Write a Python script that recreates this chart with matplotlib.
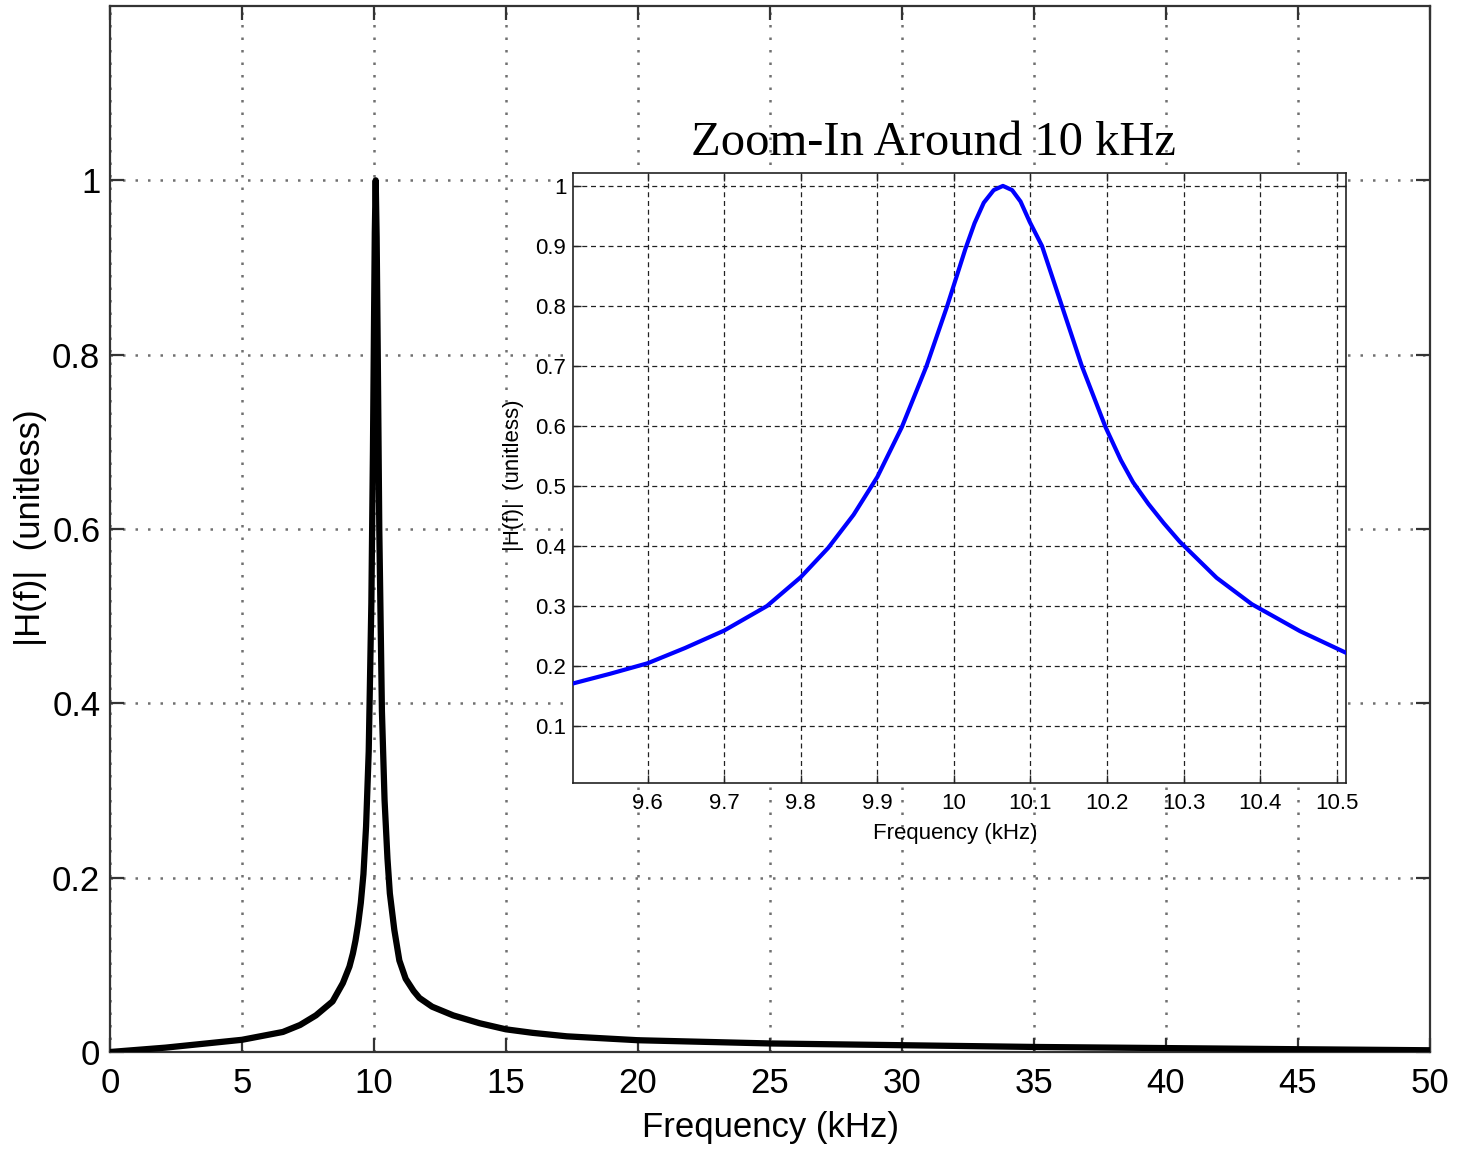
import matplotlib
matplotlib.use('Agg')
import matplotlib.pyplot as plt

# ---------------- data ----------------
freq_main = [0, 2.1, 5, 6.55, 7.2, 7.8, 8.43, 8.82, 9.07, 9.2,
             9.3, 9.4, 9.5, 9.6, 9.7, 9.8, 9.9, 9.96, 10.0, 10.03,
             10.064, 10.1, 10.14, 10.2, 10.3, 10.4, 10.51, 10.6, 10.77, 10.96,
             11.2, 11.5, 11.72, 12.2, 13, 14, 15, 16, 17.3, 20,
             25, 30, 35, 40, 45, 50]
mag_main = [0, 0.005, 0.014, 0.023, 0.031, 0.042, 0.058, 0.079, 0.098, 0.113,
            0.128, 0.147, 0.171, 0.204, 0.259, 0.345, 0.515, 0.69, 0.835, 0.94,
            1.0, 0.935, 0.81, 0.6, 0.391, 0.289, 0.222, 0.182, 0.14, 0.105,
            0.084, 0.07, 0.062, 0.052, 0.042, 0.033, 0.026, 0.022, 0.018, 0.0135,
            0.0098, 0.0078, 0.0058, 0.0045, 0.0032, 0.002]

freq_zoom = [9.503, 9.551, 9.6, 9.649, 9.7, 9.756, 9.8, 9.836, 9.869, 9.9,
             9.932, 9.964, 9.991, 10.015, 10.027, 10.039, 10.052, 10.064, 10.076, 10.087,
             10.099, 10.115, 10.141, 10.167, 10.198, 10.218, 10.234, 10.254, 10.274, 10.295,
             10.343, 10.389, 10.452, 10.512]
mag_zoom = [0.171, 0.187, 0.2045, 0.23, 0.259, 0.3, 0.348, 0.397, 0.452, 0.515,
            0.598, 0.699, 0.799, 0.895, 0.938, 0.972, 0.993, 1.0, 0.993, 0.974,
            0.94, 0.9, 0.8, 0.7, 0.598, 0.543, 0.506, 0.47, 0.438, 0.407,
            0.347, 0.303, 0.258, 0.222]

main_xticks = [0, 5, 10, 15, 20, 25, 30, 35, 40, 45, 50]
main_yticks = [0, 0.2, 0.4, 0.6, 0.8, 1.0]
main_ytick_labels = ['0', '0.2', '0.4', '0.6', '0.8', '1']

zoom_xticks = [9.6, 9.7, 9.8, 9.9, 10.0, 10.1, 10.2, 10.3, 10.4, 10.5]
zoom_xtick_labels = ['9.6', '9.7', '9.8', '9.9', '10', '10.1', '10.2', '10.3', '10.4', '10.5']
zoom_yticks = [0.1, 0.2, 0.3, 0.4, 0.5, 0.6, 0.7, 0.8, 0.9, 1.0]
zoom_ytick_labels = ['0.1', '0.2', '0.3', '0.4', '0.5', '0.6', '0.7', '0.8', '0.9', '1']

title_text = 'Zoom-In Around 10 kHz'
xlabel_text = 'Frequency (kHz)'
ylabel_text = '|H(f)|  (unitless)'

SANS = ['Liberation Sans', 'DejaVu Sans']
SERIF = ['Liberation Serif', 'DejaVu Serif']

W, H = 1459, 1149
fig = plt.figure(figsize=(W / 100, H / 100), dpi=100)

# ---------------- main axes ----------------
mx0, mx1, my_top, my_bot = 110, 1430, 6, 1052
ax = fig.add_axes([mx0 / W, 1 - my_bot / H, (mx1 - mx0) / W, (my_bot - my_top) / H])
ax.plot(freq_main, mag_main, color='black', lw=4.5, solid_joinstyle='round',
        solid_capstyle='round', zorder=3)
ax.set_xlim(0, 50)
ax.set_ylim(0, 1.2)
ax.set_xticks(main_xticks)
ax.set_xticklabels([str(v) for v in main_xticks])
ax.set_yticks(main_yticks)
ax.set_yticklabels(main_ytick_labels)
ax.grid(True, color='#707070', linestyle=(0, (1, 4)), linewidth=1.8)
ax.tick_params(direction='in', length=10, width=1.6, top=True, right=True,
               labelsize=25, color='#333333')
ax.tick_params(axis='x', pad=11)
ax.tick_params(axis='y', pad=7)
for lab in ax.get_xticklabels() + ax.get_yticklabels():
    lab.set_family(SANS)
for s in ax.spines.values():
    s.set_linewidth(1.6)
    s.set_color('#333333')
ax.set_xlabel(xlabel_text, fontsize=25, family=SANS)
ax.xaxis.set_label_coords(0.5, -(1128 - my_bot) / (my_bot - my_top))
ax.xaxis.label.set_va('center')
ax.set_ylabel(ylabel_text, fontsize=25, family=SANS)
ax.yaxis.set_label_coords(-(mx0 - 31) / (mx1 - mx0), (my_bot - 528) / (my_bot - my_top))
ax.yaxis.label.set_va('center')

# ---------------- inset axes ----------------
ix0, ix1, iy_top, iy_bot = 573.3, 1346, 172.7, 783.3
ax2 = fig.add_axes([ix0 / W, 1 - iy_bot / H, (ix1 - ix0) / W, (iy_bot - iy_top) / H])
ax2.set_facecolor('white')
ax2.set_zorder(5)
ax2.plot(freq_zoom, mag_zoom, color='#0000ff', lw=3.0, solid_joinstyle='round', zorder=3)
ax2.set_xlim(9.503, 10.512)
ax2.set_ylim(0.0045, 1.022)
ax2.set_xticks(zoom_xticks)
ax2.set_xticklabels(zoom_xtick_labels)
ax2.set_yticks(zoom_yticks)
ax2.set_yticklabels(zoom_ytick_labels)
ax2.grid(True, color='#222222', linestyle=(0, (4, 3)), linewidth=0.9)
ax2.tick_params(direction='in', length=6, width=1.0, top=True, right=True,
                labelsize=16, color='#222222')
ax2.tick_params(axis='x', pad=7)
ax2.tick_params(axis='y', pad=5)
for lab in ax2.get_xticklabels() + ax2.get_yticklabels():
    lab.set_family(SANS)
for s in ax2.spines.values():
    s.set_linewidth(1.2)
    s.set_color('#222222')
ax2.set_xlabel(xlabel_text, fontsize=16, family=SANS)
ax2.xaxis.set_label_coords((955 - ix0) / (ix1 - ix0), -(834 - iy_bot) / (iy_bot - iy_top))
ax2.xaxis.label.set_va('center')
ax2.set_ylabel(ylabel_text, fontsize=16, family=SANS)
ax2.yaxis.set_label_coords(-(ix0 - 513) / (ix1 - ix0), (iy_bot - 475) / (iy_bot - iy_top))
ax2.yaxis.label.set_va('center')

fig.text(933 / W, 1 - 143 / H, title_text, fontsize=35, family=SERIF,
         ha='center', va='center', zorder=10)

fig.savefig('out.png', dpi=100, facecolor='white')
